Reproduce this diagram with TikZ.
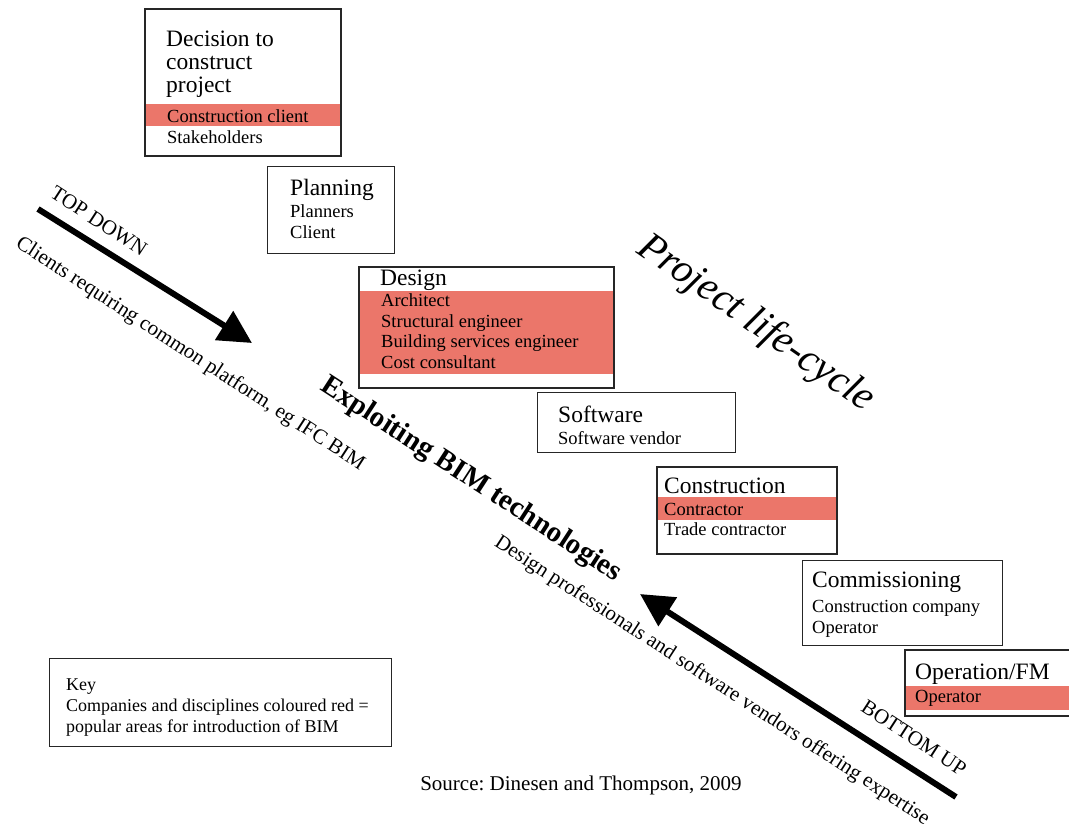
\documentclass[tikz,border=0pt]{standalone}
\usepackage{fontspec}
\setmainfont{Liberation Serif}
\usepackage{tikz}
\usetikzlibrary{arrows.meta}
\definecolor{bimred}{RGB}{235,118,106}
\frenchspacing
\tikzstyle{stage box}=[
        draw = black!85,
        line width = 1.4pt,
        fill = white,
        rectangle,
        inner sep = 0pt,
        anchor = north west
    ]
\tikzstyle{title text}=[
        anchor = base west,
        inner sep = 0pt,
        font = \fontsize{23.5}{26}\selectfont
    ]
\tikzstyle{line text}=[
        anchor = base west,
        inner sep = 0pt,
        font = \fontsize{18.5}{21}\selectfont
    ]

\begin{document}
\begin{tikzpicture}[x=1pt, y=-1pt, side/.style = {inner sep=0pt, rotate=-33, font=\fontsize{21}{24}\selectfont},
        big arrow/.style = {line width=6pt, -{Triangle[length=33pt,width=33pt]}}]
        \useasboundingbox (0,0) rectangle (1069,825);

        % stage boxes
        \node[stage box, minimum width=195pt, minimum height=146pt] (decision) at (145,9) {};
        \node[stage box, minimum width=127pt, minimum height=87pt] (planning) at (267,166) {};
        \node[stage box, minimum width=254pt, minimum height=120pt] (design) at (359,267) {};
        \node[stage box, minimum width=198pt, minimum height=60pt] (software) at (537,392) {};
        \node[stage box, minimum width=179pt, minimum height=86pt] (construction) at (657,467) {};
        \node[stage box, minimum width=200pt, minimum height=85pt] (commissioning) at (802,560) {};
        \node[stage box, minimum width=180pt, minimum height=65pt] (operation) at (905,650) {};
        \node[stage box, minimum width=342pt, minimum height=88pt] (key) at (49,658) {};

        % red bands
        \fill[bimred] (145,104) rectangle (340,126);
        \fill[bimred] (359,291) rectangle (613,374);
        \fill[bimred] (657,497) rectangle (836,520);
        \fill[bimred] (905,686) rectangle (1069,710);
        \draw[line width=1.4pt, black!85] (decision.north west) rectangle (decision.south east);
        \draw[line width=1.4pt, black!85] (design.north west) rectangle (design.south east);
        \draw[line width=1.4pt, black!85] (construction.north west) rectangle (construction.south east);
        \draw[line width=1.4pt, black!85] (operation.north west) rectangle (operation.south east);

        % texts in the boxes
        \node[title text] (dec1) at (166,46) {Decision to};
        \node[title text] (dec2) at (166,69) {construct};
        \node[title text] (dec3) at (166,92) {project};
        \node[line text] (dec4) at (167,122) {Construction client};
        \node[line text] (dec5) at (167,143) {Stakeholders};

        \node[title text] (plan1) at (290,195) {Planning};
        \node[line text] (plan2) at (290,217) {Planners};
        \node[line text] (plan3) at (290,238) {Client};

        \node[title text] (des1) at (380,285) {Design};
        \node[line text] (des2) at (381,306) {Architect};
        \node[line text] (des3) at (381,327) {Structural engineer};
        \node[line text] (des4) at (381,347) {Building services engineer};
        \node[line text] (des5) at (381,368) {Cost consultant};

        \node[title text] (soft1) at (558,422) {Software};
        \node[line text] (soft2) at (558,444) {Software vendor};

        \node[title text] (con1) at (664,493) {Construction};
        \node[line text] (con2) at (664,515) {Contractor};
        \node[line text] (con3) at (664,535) {Trade contractor};

        \node[title text] (com1) at (812,587) {Commissioning};
        \node[line text] (com2) at (812,612) {Construction company};
        \node[line text] (com3) at (812,633) {Operator};

        \node[title text] (op1) at (915,679) {Operation/FM};
        \node[line text] (op2) at (915,702) {Operator};

        \node[line text, font=\fontsize{18}{21}\selectfont] (key1) at (66,690) {Key};
        \node[line text, font=\fontsize{18}{21}\selectfont] (key2) at (66,711) {Companies and disciplines coloured red =};
        \node[line text, font=\fontsize{18}{21}\selectfont] (key3) at (66,732) {popular areas for introduction of BIM};

        % arrows
        \coordinate (td start) at (38,209);
        \coordinate (td end) at (252,343);
        \coordinate (bu start) at (956,797);
        \coordinate (bu end) at (640,594);
        \draw[big arrow] (td start) -- (td end);
        \draw[big arrow] (bu start) -- (bu end);

        % slanted texts
        \node[side] (td label) at (99,221) {TOP DOWN};
        \node[side] (clients) at (190,354) {Clients requiring common platform, eg IFC BIM};
        \node[side, font=\bfseries\fontsize{29}{32}\selectfont] (exploit) at (471,480) {Exploiting BIM technologies};
        \node[side, rotate=-2, font=\itshape\fontsize{41}{44}\selectfont] (lifecycle) at (756,324) {Project life-cycle};
        \node[side] (professionals) at (712,681) {Design professionals and software vendors offering expertise};
        \node[side] (bu label) at (914,738) {BOTTOM UP};

        \node[inner sep=0pt, anchor=base, font=\fontsize{21}{24}\selectfont] (source) at (581,790) {Source: Dinesen and Thompson, 2009};
    \end{tikzpicture}
\end{document}
